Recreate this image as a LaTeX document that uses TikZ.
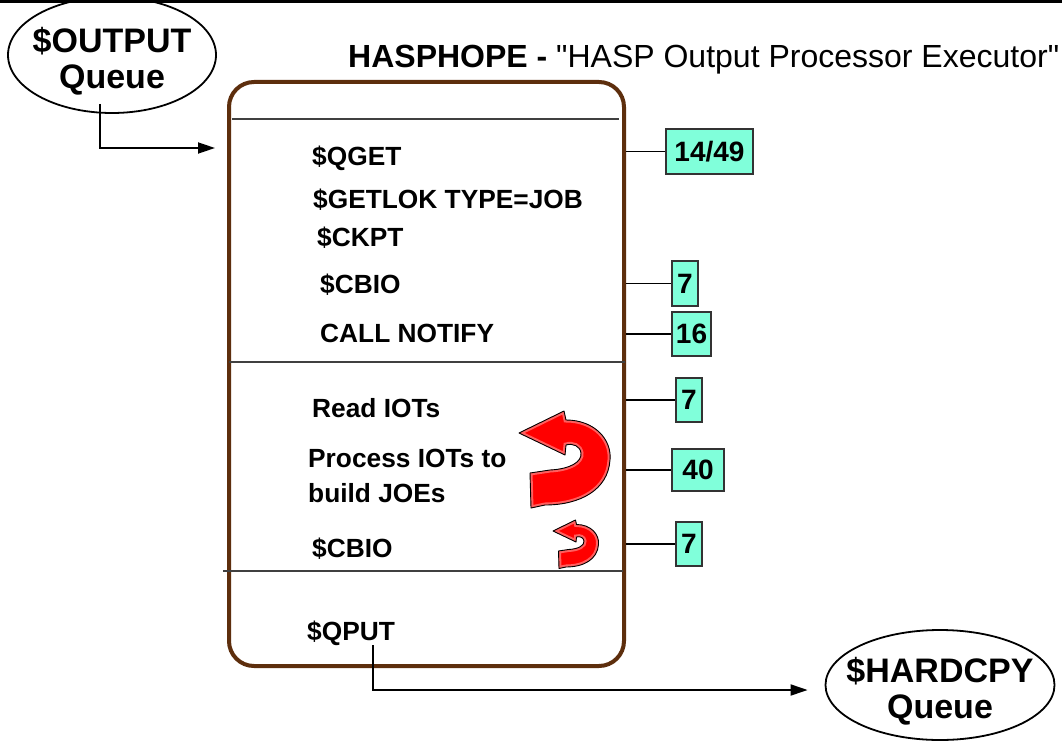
\documentclass[tikz,border=0pt]{standalone}
\usepackage{fontspec}
\setmainfont{Liberation Sans}[Ligatures=TeXOff]
\usetikzlibrary{shapes.geometric,arrows.meta,calc}
\definecolor{boxbrown}{RGB}{93,46,13}
\definecolor{aqua}{RGB}{128,255,218}
\definecolor{bevel}{RGB}{255,95,95}
\tikzset{
  lbl/.style={anchor=base west, inner sep=0pt, align=left, font=\fontsize{26.3}{35}\selectfont\bfseries},
  numbox/.style={draw=black!80, line width=1.3pt, fill=aqua, inner sep=0pt, font=\fontsize{28}{30}\selectfont\bfseries},
  queue/.style={ellipse, draw, line width=1.8pt, inner xsep=-40pt, inner ysep=-30pt, align=center, font=\fontsize{34}{36}\selectfont\bfseries},
  sep/.style={draw=black!75, line width=1.3pt},
  tick/.style={draw=black, line width=1.2pt},
  flow/.style={draw=black, line width=1.8pt, -{Triangle[length=17pt,width=11pt]}},
  pics/uturn/.style={code={
    \fill[red] (0,0) -- (45,-22) -- (47,-13) .. controls (76,-13) and (93,7) .. (91,27) .. controls (89,57) and (61,72) .. (26,72) -- (12,75) -- (11,40) -- (31,37) .. controls (51,36) and (63,29) .. (62,20) .. controls (61,13) and (54,10) .. (47,12) -- (46,22) -- cycle;
    \begin{scope}
      \clip (0,0) -- (45,-22) -- (47,-13) .. controls (76,-13) and (93,7) .. (91,27) .. controls (89,57) and (61,72) .. (26,72) -- (12,75) -- (11,40) -- (31,37) .. controls (51,36) and (63,29) .. (62,20) .. controls (61,13) and (54,10) .. (47,12) -- (46,22) -- cycle;
      \draw[bevel, line width=#1] (0,0) -- (45,-22) -- (47,-13) .. controls (76,-13) and (93,7) .. (91,27) .. controls (89,57) and (61,72) .. (26,72) -- (12,75) -- (11,40) -- (31,37) .. controls (51,36) and (63,29) .. (62,20) .. controls (61,13) and (54,10) .. (47,12) -- (46,22) -- cycle;
    \end{scope}
    \draw[black, line width=0.9pt, line join=round] (0,0) -- (45,-22) -- (47,-13) .. controls (76,-13) and (93,7) .. (91,27) .. controls (89,57) and (61,72) .. (26,72) -- (12,75) -- (11,40) -- (31,37) .. controls (51,36) and (63,29) .. (62,20) .. controls (61,13) and (54,10) .. (47,12) -- (46,22) -- cycle;
  }}
}
\begin{document}
\begin{tikzpicture}[x=1pt,y=-1pt]
\useasboundingbox (0,0) rectangle (1062,746);
\fill[white] (0,0) rectangle (1062,746);

% queues
\node[queue, minimum width=208pt, minimum height=116pt] (outq) at (112,55) {\rule{0pt}{37pt}\$OUTPUT\\Queue};
\node[queue, minimum width=229pt, minimum height=110pt] (hardq) at (940,685) {\rule{0pt}{37pt}\$HARDCPY\\Queue};
\draw[line width=3pt] (0,1.5) -- (1062,1.5);

% title
\node[anchor=base west, inner sep=0pt, font=\fontsize{32}{36}\selectfont] (title) at (348,68)
  {\bfseries HASPHOPE - \mdseries "HASP Output Processor Executor"};

% main box
\node[draw=boxbrown, line width=4pt, rounded corners=25pt, minimum width=395pt, minimum height=584pt, inner sep=0pt] (proc) at (426.5,374) {};
\draw[sep] ($(proc.north west)+(5,39)$) -- ($(proc.north east)+(-7,39)$);
\draw[sep] ($(proc.north west)+(2,282)$) -- ($(proc.north east)+(-1,282)$);
\draw[sep] ($(proc.north west)+(-4,491)$) -- ($(proc.north east)+(-3,491)$);

% steps
\node[lbl] (qget) at (312,166) {\$QGET};
\node[lbl] (getlok) at (313,208) {\$GETLOK TYPE=JOB};
\node[lbl] (ckpt) at (317,246) {\$CKPT};
\node[lbl] (cbioa) at (320,293) {\$CBIO};
\node[lbl] (notify) at (320,342) {CALL NOTIFY};
\node[lbl] (readiot) at (312,417) {Read IOTs};
\node[lbl] (procio) at (308,502) {Process IOTs to\\build JOEs};
\node[lbl] (cbiob) at (312,557) {\$CBIO};
\node[lbl] (qput) at (307,640) {\$QPUT};

% loop arrows
\pic at (519,433) {uturn=5pt};
\pic[scale=0.5] at (553,531) {uturn=5pt};

% counts
\node[numbox, minimum width=87pt, minimum height=45pt] (n1) at (709.5,151.5) {14/49};
\node[numbox, minimum width=26pt, minimum height=45pt] (n2) at (685,283.5) {7};
\node[numbox, minimum width=39pt, minimum height=44pt] (n3) at (691.5,334) {16};
\node[numbox, minimum width=26pt, minimum height=44pt] (n4) at (689,400) {7};
\node[numbox, minimum width=52pt, minimum height=42pt] (n5) at (698,470) {40};
\node[numbox, minimum width=26pt, minimum height=44pt] (n6) at (689,544) {7};
\foreach \n in {n1,n2,n3,n4,n5,n6}{
  \draw[tick] (proc.east |- \n.west) -- (\n.west);
}

% flow arrows
\draw[flow] ($(outq.south)+(-12,-10)$) |- ($(proc.north west)+(-12,68)$);
\draw[flow] ($(qput.base west)+(66,5)$) |- ($(hardq.west)+(-17,5)$);
\end{tikzpicture}
\end{document}
